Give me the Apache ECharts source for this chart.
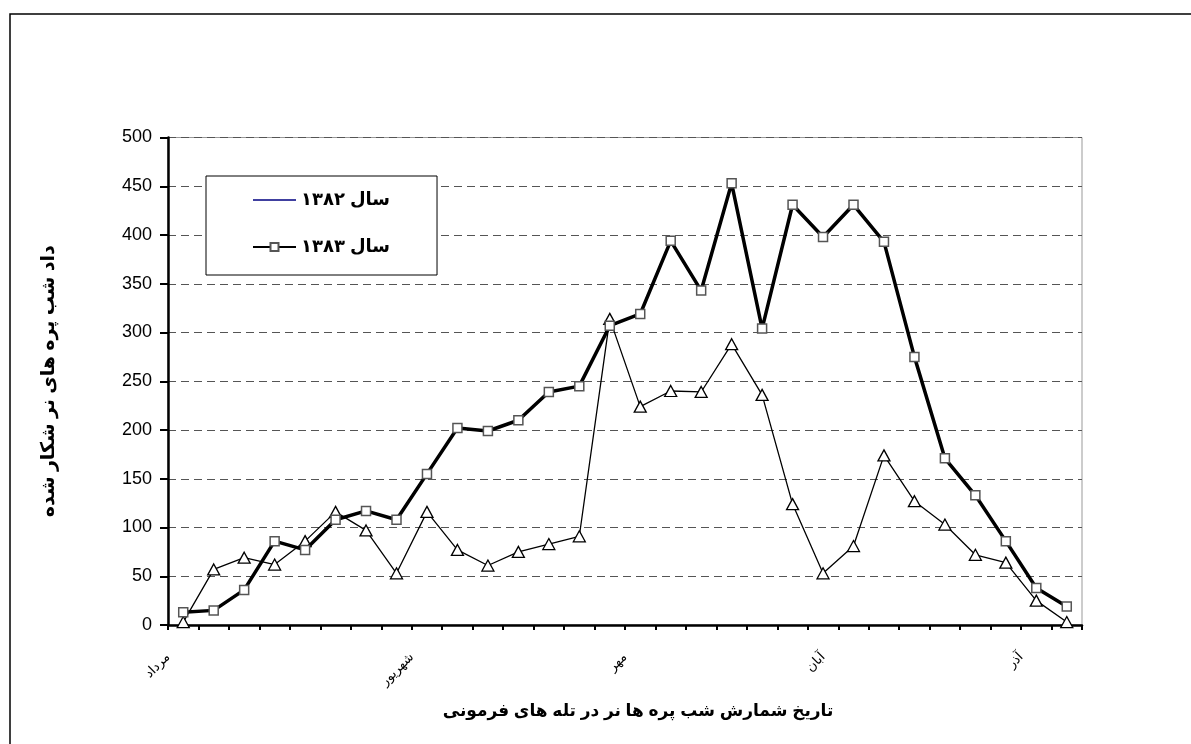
<!DOCTYPE html>
<html>
<head>
<meta charset="utf-8">
<script src="https://cdn.jsdelivr.net/npm/echarts@6/dist/echarts.min.js"></script>
<style>
    html,body{margin:0;padding:0;background:#fff;}
    #chart{width:1191px;height:744px;}
</style>
</head>
<body>
<div id="chart"></div>
<script>
// sampling dates (one point per count, 30 counts)
var samples = ['1','2','3','4','5','6','7','8','9','10','11','12','13','14','15',
               '16','17','18','19','20','21','22','23','24','25','26','27','28','29','30']
// month names on the x axis and where they sit (in sample widths from the axis start)
var monthNames = ['مرداد','شهریور','مهر','آبان','آذر']
var monthPos = [0, 8, 15, 21.5, 28]

var name1382 = 'سال ۱۳۸۲'
var name1383 = 'سال ۱۳۸۳'
var data1382 = [3,57,69,62,86,116,97,53,116,77,61,75,83,91,314,224,240,239,288,236,124,53,81,174,127,103,72,64,25,3]
var data1383 = [13,15,36,86,77,108,117,108,155,202,199,210,239,245,307,319,394,343,453,304,431,398,431,393,275,171,133,86,38,19]

var yTicks = {min:0, max:500, step:50}

var font = 'Liberation Sans, Arial, DejaVu Sans, sans-serif'

var myChart = echarts.init(document.getElementById('chart'))

var option = {
    backgroundColor:'#fff',
    animation:false,
    textStyle:{fontFamily:font},
    graphic:[{
        type:'rect',
        z:0,
        silent:true,
        shape:{x:10, y:14, width:1400, height:900},
        style:{fill:'none', stroke:'#000', lineWidth:1.5}
    }],
    grid:{
        left:168,
        right:109,
        top:137.5,
        bottom:119,
        show:true,
        borderColor:'#999',
        borderWidth:1
    },
    legend:{
        left:206,
        top:176,
        orient:'vertical',
        align:'left',
        padding:[15,47,19,46],
        itemGap:29,
        itemWidth:43,
        itemHeight:10,
        itemTextGap:8,
        backgroundColor:'#fff',
        borderColor:'#000',
        borderWidth:1,
        z:10,
        textStyle:{color:'#000', fontSize:18, fontWeight:'bold', fontFamily:font},
        data:[
            {name:name1382, itemStyle:{opacity:0}, lineStyle:{color:'#000080', width:1.5}},
            {name:name1383}
        ]
    },
    xAxis:[{
        type:'category',
        data:samples,
        boundaryGap:true,
        name:'تاریخ شمارش شب پره ها نر در تله های فرمونی',
        nameLocation:'middle',
        nameGap:78,
        nameTextStyle:{color:'#000', fontSize:17, fontWeight:'bold', padding:[0,0,0,26]},
        axisLine:{lineStyle:{color:'#000', width:2.5}},
        axisTick:{show:true, interval:0, length:5, lineStyle:{color:'#000', width:2}},
        axisLabel:{show:false},
        splitLine:{show:false}
    },{
        // only carries the month names
        type:'value',
        min:0,
        max:samples.length,
        interval:0.5,
        position:'bottom',
        axisLine:{show:false},
        axisTick:{show:false},
        splitLine:{show:false},
        axisLabel:{
            rotate:45,
            margin:30,
            fontSize:13,
            color:'#000',
            showMinLabel:true,
            showMaxLabel:true,
            formatter:function(v){
                var k = monthPos.indexOf(v)
                return k >= 0 ? monthNames[k] : ''
            }
        }
    }],
    yAxis:{
        type:'value',
        min:yTicks.min,
        max:yTicks.max,
        interval:yTicks.step,
        name:'داد شب پره های نر شکار شده',
        nameLocation:'middle',
        nameRotate:90,
        nameGap:110,
        nameTextStyle:{color:'#000', fontSize:19, fontWeight:'bold'},
        axisLine:{show:true, lineStyle:{color:'#000', width:2.5}},
        axisTick:{show:true, length:8, lineStyle:{color:'#000', width:2}},
        axisLabel:{color:'#000', fontSize:18, margin:16},
        splitLine:{show:true, lineStyle:{color:'#555', type:[8,5], width:1}}
    },
    series:[{
        name:name1382,
        type:'line',
        data:data1382,
        symbol:'triangle',
        symbolSize:[12,11],
        showAllSymbol:true,
        lineStyle:{color:'#000', width:1.3},
        itemStyle:{color:'#fff', borderColor:'#000', borderWidth:1.3},
        z:3
    },{
        name:name1383,
        type:'line',
        data:data1383,
        symbol:'rect',
        symbolSize:9,
        showAllSymbol:true,
        lineStyle:{color:'#000', width:3.5},
        itemStyle:{color:'#fff', borderColor:'#555', borderWidth:1.5},
        z:4
    }]
}
myChart.setOption(option)
</script>
</body>
</html>
